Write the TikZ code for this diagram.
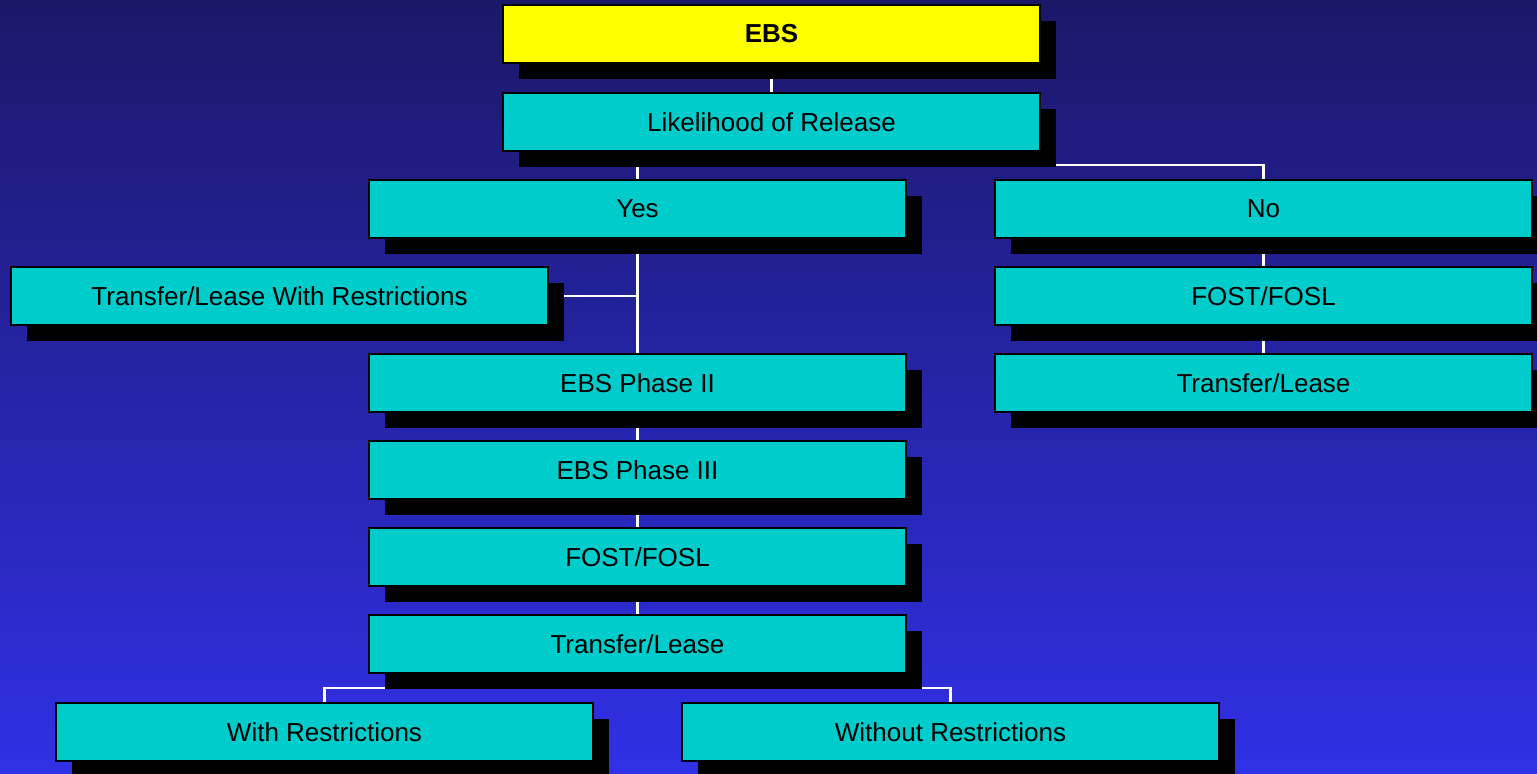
\documentclass[tikz,border=0pt]{standalone}
\usepackage{fontspec}
\setmainfont{Liberation Sans}
\usetikzlibrary{shadows}
\definecolor{boxcyan}{HTML}{00CCCC}
\definecolor{boxyellow}{HTML}{FFFF00}
\definecolor{bgtop}{HTML}{1B1868}
\definecolor{bgbot}{HTML}{3030E6}
\pgfdeclarelayer{bglayer}
\pgfdeclarelayer{edgelayer}
\pgfsetlayers{bglayer,edgelayer,main}
\begin{document}
\begin{tikzpicture}[x=0.5pt,y=-0.5pt,
  boxstyle/.style={draw=black,line width=0.9pt,fill=boxcyan,minimum width=268.5pt,minimum height=29pt,
    inner sep=0pt,font=\fontsize{13}{15}\selectfont,text=black,
    general shadow={fill=black,shadow xshift=8pt,shadow yshift=-8pt}},
  topbox/.style={boxstyle,fill=boxyellow,font=\fontsize{13}{15}\selectfont\bfseries},
  conn/.style={draw=white,line width=1.3pt}]
\useasboundingbox (0,0) rectangle (1537,774);
\begin{pgfonlayer}{bglayer}
\shade[top color=bgtop,bottom color=bgbot] (0,0) rectangle (1537,774);
\end{pgfonlayer}
\node[topbox] (ebs) at (771.5,34) {EBS};
\node[boxstyle] (lik) at (771.5,122) {Likelihood of Release};
\node[boxstyle] (yes) at (637.5,209) {Yes};
\node[boxstyle] (no) at (1263.5,209) {No};
\node[boxstyle] (tlwr) at (279.5,296) {Transfer/Lease With Restrictions};
\node[boxstyle] (fostr) at (1263.5,296) {FOST/FOSL};
\node[boxstyle] (ph2) at (637.5,383) {EBS Phase II};
\node[boxstyle] (tlr) at (1263.5,383) {Transfer/Lease};
\node[boxstyle] (ph3) at (637.5,470) {EBS Phase III};
\node[boxstyle] (fostl) at (637.5,557) {FOST/FOSL};
\node[boxstyle] (tl) at (637.5,644) {Transfer/Lease};
\node[boxstyle] (with) at (324.5,732) {With Restrictions};
\node[boxstyle] (without) at (950.5,732) {Without Restrictions};
\begin{pgfonlayer}{edgelayer}
\draw[conn] (ebs.south) -- (lik.north);
\draw[conn] (lik.south) -- +(0,13) -| (yes.north);
\draw[conn] (lik.south) -- +(0,13) -| (no.north);
\draw[conn] (yes.south) -- (ph2.north);
\draw[conn] (tlwr.east) -- (tlwr.east -| yes.south);
\draw[conn] (ph2.south) -- (ph3.north);
\draw[conn] (ph3.south) -- (fostl.north);
\draw[conn] (fostl.south) -- (tl.north);
\draw[conn] (tl.south) -- +(0,14) -| (with.north);
\draw[conn] (tl.south) -- +(0,14) -| (without.north);
\draw[conn] (no.south) -- (fostr.north);
\draw[conn] (fostr.south) -- (tlr.north);
\end{pgfonlayer}
\end{tikzpicture}
\end{document}
